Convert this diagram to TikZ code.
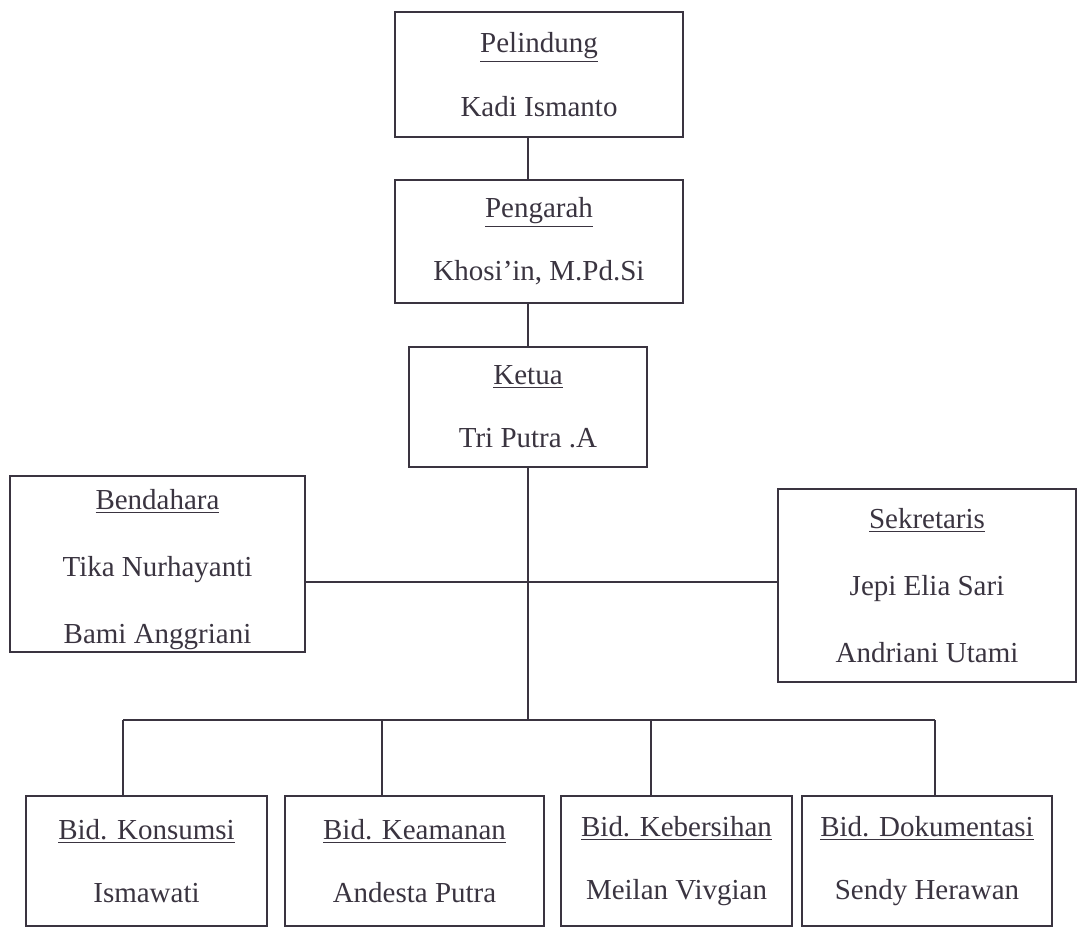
\documentclass[tikz,border=0pt]{standalone}
\usepackage{fontspec}
\setmainfont{Liberation Serif}
\usetikzlibrary{positioning}
\definecolor{ink}{RGB}{58,52,64}

\begin{document}
\begin{tikzpicture}[x=0.02cm, y=-0.02cm, ink, line width=.7pt,
  post/.style={draw, align=center, inner sep=0pt,
    font=\fontsize{16.5}{36}\selectfont},
  tall/.style={font=\fontsize{16.5}{38}\selectfont}]
\useasboundingbox (0,0) rectangle (1077,928);
\node[post, minimum width=5.76cm, minimum height=2.5cm] at (539,74.5) (pelindung)
  {\underline{Pelindung}\\Kadi Ismanto};
\node[post, minimum width=5.76cm, minimum height=2.46cm] at (539,241.5) (pengarah)
  {\underline{Pengarah}\\Khosi’in, M.Pd.Si};
\node[post, minimum width=4.76cm, minimum height=2.4cm] at (528,407) (ketua)
  {\underline{Ketua}\\Tri Putra .A};
\node[post, tall, minimum width=5.9cm, minimum height=3.52cm] at (157.5,564) (bendahara)
  {\rule{0pt}{18pt}\underline{Bendahara}\\Tika Nurhayanti\\Bami Anggriani};
\node[post, tall, minimum width=5.96cm, minimum height=3.86cm] at (927,585.5) (sekretaris)
  {\underline{Sekretaris}\\Jepi Elia Sari\\Andriani Utami};
% bidang
\node[post, minimum width=4.82cm, minimum height=2.6cm] at (146.5,861) (konsumsi)
  {\underline{Bid. Konsumsi}\\Ismawati};
\node[post, minimum width=5.18cm, minimum height=2.6cm] at (414.5,861) (keamanan)
  {\underline{Bid. Keamanan}\\Andesta Putra};
\node[post, minimum width=4.62cm, minimum height=2.6cm] at (676.5,861) (kebersihan)
  {\underline{Bid. Kebersihan}\\Meilan Vivgian};
\node[post, minimum width=5.0cm, minimum height=2.6cm] at (927,861) (dokumentasi)
  {\underline{Bid. Dokumentasi}\\Sendy Herawan};
\coordinate (mid) at (528,582);
\coordinate (bus) at (528,720);
\coordinate (dropA) at (123,720);
\coordinate (dropB) at (382,720);
\coordinate (dropC) at (651,720);
\coordinate (dropD) at (935,720);
\draw (pelindung.south -| ketua) -- (pengarah.north -| ketua);
\draw (pengarah.south -| ketua) -- (ketua.north);
\draw (ketua.south) -- (bus);
\draw (bendahara.east |- mid) -- (sekretaris.west |- mid);
\draw (dropA) -- (dropD);
\draw (dropA) -- (dropA |- konsumsi.north);
\draw (dropB) -- (dropB |- keamanan.north);
\draw (dropC) -- (dropC |- kebersihan.north);
\draw (dropD) -- (dropD |- dokumentasi.north);
\end{tikzpicture}
\end{document}
